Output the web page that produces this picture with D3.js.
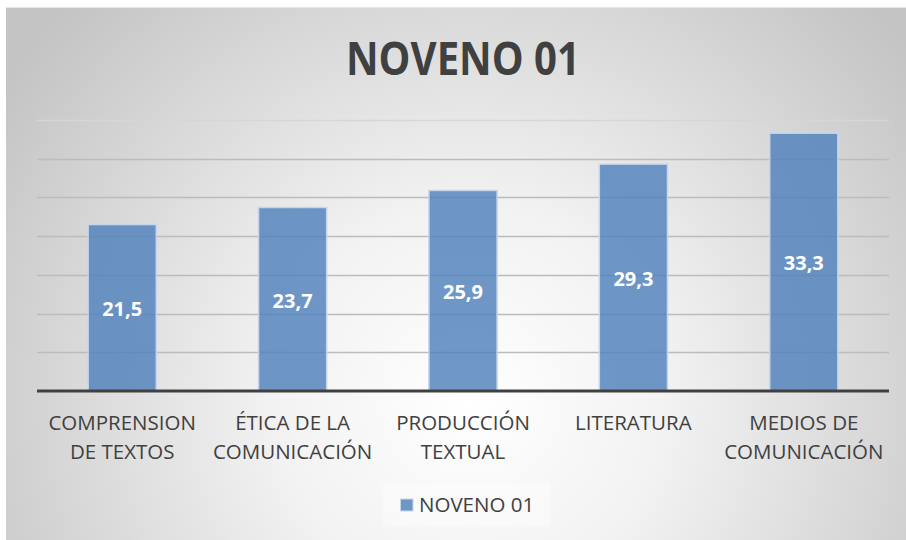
<!DOCTYPE html>
<html><head><meta charset="utf-8">
<script src="https://cdn.jsdelivr.net/npm/d3@7"></script>
<style>body{margin:0;background:#fff;} svg{display:block;}</style>
</head><body>
<svg id="c" width="906" height="540"></svg>
<script>
const categories = [["COMPRENSION","DE TEXTOS"],["ÉTICA DE LA","COMUNICACIÓN"],["PRODUCCIÓN","TEXTUAL"],["LITERATURA"],["MEDIOS DE","COMUNICACIÓN"]];
const values = [21.5, 23.7, 25.9, 29.3, 33.3];
const valueLabels = ["21,5","23,7","25,9","29,3","33,3"];
const yTicks = [0,5,10,15,20,25,30,35];
const seriesName = "NOVENO 01";
const title = "NOVENO 01";

const svg = d3.select("#c");
const defs = svg.append("defs");
const g = defs.append("radialGradient").attr("id","bg").attr("gradientUnits","userSpaceOnUse")
  .attr("cx",470).attr("cy",400).attr("r",560);
g.append("stop").attr("offset","0").attr("stop-color","#ffffff");
g.append("stop").attr("offset","0.35").attr("stop-color","#f2f2f2");
g.append("stop").attr("offset","1").attr("stop-color","#c4c4c4");

svg.append("rect").attr("x",6).attr("y",7).attr("width",900).attr("height",533).attr("fill","url(#bg)");
svg.append("line").attr("x1",6).attr("x2",906).attr("y1",7.5).attr("y2",7.5).attr("stroke","#e6e6e6");

const x = d3.scaleBand().domain(d3.range(values.length)).range([37,889]).paddingInner(0.6).paddingOuter(0.3);
const y = d3.scaleLinear().domain([0,35]).range([391,120]);

// gridlines
svg.append("g").selectAll("line").data(yTicks.filter(t=>t>0)).join("line")
  .attr("x1",37).attr("x2",889).attr("y1",d=>Math.round(y(d))+0.5).attr("y2",d=>Math.round(y(d))+0.5)
  .attr("stroke",d=>d===35?"#d6d6d6":"#bcbcbc").attr("stroke-width",1.3);

// bars
svg.append("g").selectAll("rect").data(values).join("rect")
  .attr("x",(d,i)=>x(i)).attr("width",x.bandwidth())
  .attr("y",d=>y(d)).attr("height",d=>y(0)-y(d))
  .attr("fill","#4f81bd").attr("fill-opacity",0.82)
  .attr("stroke","#c5d6ec").attr("stroke-width",1.5);

// axis line
svg.append("line").attr("x1",37).attr("x2",889).attr("y1",y(0)).attr("y2",y(0))
  .attr("stroke","#404040").attr("stroke-width",3);

// value labels
svg.append("g").selectAll("text").data(values).join("text")
  .attr("x",(d,i)=>x(i)+x.bandwidth()/2).attr("y",d=>(y(d)+y(0))/2+3)
  .attr("text-anchor","middle").attr("dominant-baseline","middle")
  .attr("font-family","Open Sans, sans-serif").attr("font-weight","bold").attr("font-size",20)
  .attr("fill","#ffffff").text((d,i)=>valueLabels[i]);

// category labels
const cl = svg.append("g").selectAll("text").data(categories).join("text")
  .attr("x",(d,i)=>x(i)+x.bandwidth()/2).attr("y",430)
  .attr("text-anchor","middle").attr("font-family","Open Sans, sans-serif").attr("font-size",20.5)
  .attr("fill","#404040");
cl.selectAll("tspan").data(d=>d).join("tspan")
  .attr("x",function(){return this.parentNode.getAttribute("x");})
  .attr("dy",(d,i)=>i===0?0:29).text(d=>d);

// title
svg.append("text").attr("x",463).attr("y",75).attr("text-anchor","middle")
  .attr("font-family","Open Sans, sans-serif").attr("font-weight","bold").attr("font-size",46)
  .attr("fill","#404040").attr("textLength",234).attr("lengthAdjust","spacingAndGlyphs").text(title);

// legend
svg.append("rect").attr("x",383).attr("y",483).attr("width",167).attr("height",44).attr("fill","#ffffff").attr("fill-opacity",0.35);
svg.append("rect").attr("x",400.5).attr("y",499).attr("width",12.5).attr("height",12)
  .attr("fill","#4f81bd").attr("fill-opacity",0.82).attr("stroke","#c5d6ec");
svg.append("text").attr("x",419).attr("y",512).attr("font-family","Open Sans, sans-serif").attr("font-size",20.5)
  .attr("fill","#404040").text(seriesName);
</script>
</body></html>
